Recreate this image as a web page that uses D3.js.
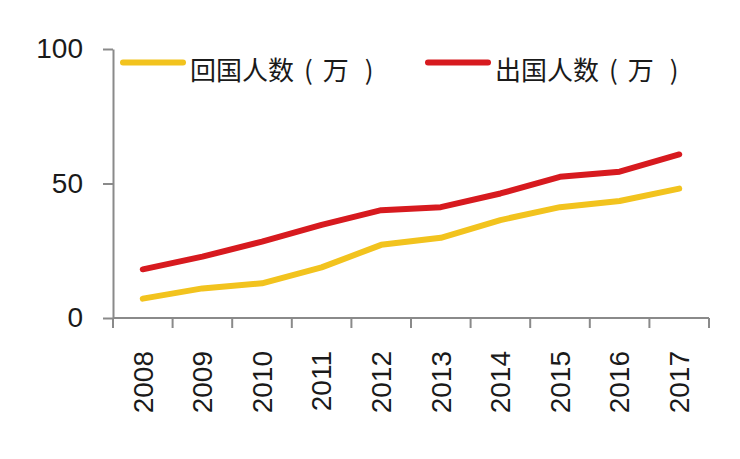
<!DOCTYPE html>
<html><head><meta charset="utf-8">
<script src="https://cdn.jsdelivr.net/npm/d3@7"></script>
<style>body{margin:0;background:#fff}</style>
</head><body>
<svg id="c" width="740" height="459"></svg>
<script>
const years = ["2008","2009","2010","2011","2012","2013","2014","2015","2016","2017"];
const returnees = [7.2, 11.0, 12.9, 18.8, 27.2, 29.8, 36.4, 41.2, 43.5, 48.1];
const outbound = [18.1, 22.8, 28.4, 34.6, 40.1, 41.2, 46.3, 52.5, 54.4, 60.8];
const seriesNames = ["回国人数", "出国人数"];
const unitParts = ["(", "万", ")"];
const seriesColors = ["#F2C31E", "#D71A1F"];
const yTicks = [0, 50, 100];

const svg = d3.select("#c");
const x = d3.scaleBand().domain(years).range([113, 709]);
const y = d3.scaleLinear().domain([0, 100]).range([318, 49]);

// axes
const yAxis = svg.append("g").attr("transform", "translate(113,0)")
  .call(d3.axisLeft(y).tickValues(yTicks).tickSize(10).tickSizeOuter(0).tickPadding(20));
yAxis.selectAll("text").attr("font-family", "Liberation Sans, Arial, sans-serif").attr("font-size", 28).attr("fill", "#1a1a1a");

const xAxis = svg.append("g").attr("transform", "translate(0,318)")
  .call(d3.axisBottom(x).tickSize(10).tickSizeOuter(10));
xAxis.selectAll(".tick line").remove();
xAxis.selectAll(".tick text")
  .attr("font-family", "Liberation Sans, Arial, sans-serif").attr("font-size", 28).attr("fill", "#1a1a1a")
  .attr("transform", "rotate(-90)").attr("text-anchor", "end")
  .attr("x", -33).attr("y", 0).attr("dy", "0.35em");
// boundary ticks between categories
const bounds = years.map(d => x(d)).concat([x(years[years.length-1]) + x.bandwidth()]);
xAxis.selectAll(".bt").data(bounds).enter().append("line")
  .attr("x1", d => d).attr("x2", d => d).attr("y1", 0).attr("y2", 10);
[yAxis, xAxis].forEach(g => {
  g.selectAll("path.domain").attr("stroke", "#8a8a8a").attr("stroke-width", 2);
  g.selectAll("line").attr("stroke", "#8a8a8a").attr("stroke-width", 2);
});
xAxis.select("path.domain").attr("d", "M113,0H709");

// lines
const line = d3.line().x((d, i) => x(years[i]) + x.bandwidth()/2).y(d => y(d));
[returnees, outbound].forEach((s, k) => {
  svg.append("path").datum(s).attr("d", line)
    .attr("fill", "none").attr("stroke", seriesColors[k]).attr("stroke-width", 6)
    .attr("stroke-linejoin", "round").attr("stroke-linecap", "round");
});

// legend
const legX = [123, 428];
const partDx = [10, 10, 16];
seriesNames.forEach((n, k) => {
  const g = svg.append("g");
  g.append("line").attr("x1", legX[k]).attr("x2", legX[k] + 60).attr("y1", 62.5).attr("y2", 62.5)
    .attr("stroke", seriesColors[k]).attr("stroke-width", 6).attr("stroke-linecap", "round");
  const t = g.append("text").attr("x", legX[k] + 67).attr("y", 68).attr("dominant-baseline", "central")
    .attr("font-family", "Noto Sans CJK SC, sans-serif").attr("font-size", 26).attr("fill", "#1a1a1a");
  t.append("tspan").text(n);
  unitParts.forEach((p, i) => t.append("tspan").attr("dx", partDx[i]).text(p));
});
</script>
</body></html>
